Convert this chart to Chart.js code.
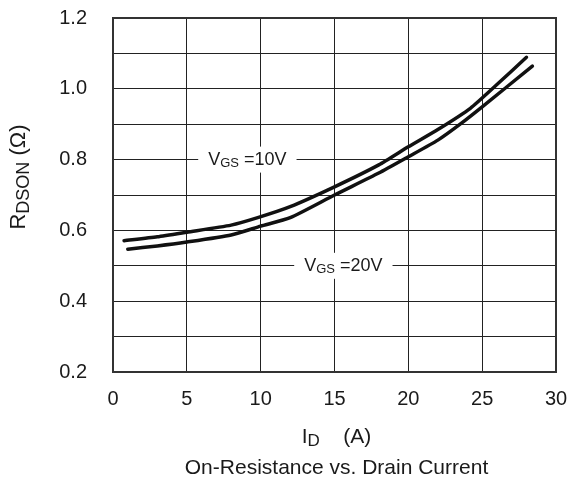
<!DOCTYPE html>
<html>
<head>
<meta charset="utf-8">
<script src="https://cdn.jsdelivr.net/npm/chart.js@4.4.1/dist/chart.umd.min.js"></script>
<style>
  html, body { margin: 0; padding: 0; background: #fff; }
  #wrap { width: 571px; height: 488px; position: relative; }
</style>
</head>
<body>
<div id="wrap"><canvas id="c"></canvas></div>
<script>
// -- data --
const vgs10Current = [0.75, 3, 5, 8, 9.8, 12, 15, 18, 20, 22, 24.2, 26, 28];
const vgs10Rdson   = [0.571, 0.582, 0.595, 0.615, 0.636, 0.667, 0.723, 0.785, 0.836, 0.885, 0.945, 1.012, 1.089];
const vgs20Current = [1, 3, 5, 8, 10, 12, 15, 18, 20, 22, 23.6, 25, 28.4];
const vgs20Rdson   = [0.547, 0.556, 0.567, 0.587, 0.612, 0.636, 0.700, 0.762, 0.808, 0.855, 0.903, 0.949, 1.064];

const xTicks = [0, 5, 10, 15, 20, 25, 30];
const yLabels = [0.2, 0.4, 0.6, 0.8, 1.0, 1.2];

// callout labels: [text, subscript, rest, x, y]
const callouts = [
    ['V', 'GS', ' =10V', 9.1, 0.8],
    ['V', 'GS', ' =20V', 15.6, 0.5],
];

const FONT = "'Liberation Sans', Arial, sans-serif";
const INK = '#1a1a1a';

function toPoints(xs, ys) {
    return xs.map((x, i) => ({ x, y: ys[i] }));
}

// draws text with a subscript part, starting at x (left aligned)
function drawSub(ctx, x, y, main, sub, rest, size, subSize) {
    ctx.font = `${size}px ${FONT}`;
    ctx.fillText(main, x, y);
    x += ctx.measureText(main).width;
    ctx.font = `${subSize}px ${FONT}`;
    ctx.fillText(sub, x, y + size * 0.22);
    x += ctx.measureText(sub).width;
    ctx.font = `${size}px ${FONT}`;
    ctx.fillText(rest, x, y);
}

function subWidth(ctx, main, sub, rest, size, subSize) {
    ctx.font = `${size}px ${FONT}`;
    let w = ctx.measureText(main).width + ctx.measureText(rest).width;
    ctx.font = `${subSize}px ${FONT}`;
    return w + ctx.measureText(sub).width;
}

const decorations = {
    id: 'decorations',
    beforeDatasetsDraw(chart) {
        const { ctx, scales: { x, y } } = chart;
        ctx.save();
        ctx.textBaseline = 'middle';
        callouts.forEach(([m, s, r, cx, cy]) => {
            const w = subWidth(ctx, m, s, r, 18, 13);
            const px = x.getPixelForValue(cx);
            const py = y.getPixelForValue(cy);
            ctx.fillStyle = '#fff';
            ctx.fillRect(px - w / 2 - 10, py - 13, w + 20, 26);
            ctx.fillStyle = INK;
            drawSub(ctx, px - w / 2, py, m, s, r, 18, 13);
        });
        ctx.restore();
    },
    afterDraw(chart) {
        const { ctx, chartArea: a } = chart;
        ctx.save();
        ctx.strokeStyle = '#333';
        ctx.lineWidth = 2;
        ctx.strokeRect(a.left, a.top, a.right - a.left, a.bottom - a.top);

        ctx.fillStyle = INK;
        ctx.textBaseline = 'middle';
        // x axis title
        const cx = (a.left + a.right) / 2 + 2;
        let w = subWidth(ctx, 'I', 'D', '    (A)', 21, 17);
        drawSub(ctx, cx - w / 2, 437, 'I', 'D', '    (A)', 21, 17);
        // caption
        ctx.font = `21px ${FONT}`;
        ctx.textAlign = 'center';
        ctx.fillText('On-Resistance vs. Drain Current', cx, 468);
        ctx.textAlign = 'left';
        // y axis title
        ctx.translate(19, 177);
        ctx.rotate(-Math.PI / 2);
        w = subWidth(ctx, 'R', 'DSON', ' (Ω)', 22, 18);
        drawSub(ctx, -w / 2, 0, 'R', 'DSON', ' (Ω)', 22, 18);
        ctx.restore();
    }
};

new Chart(document.getElementById('c'), {
    type: 'line',
    data: {
        datasets: [
            { label: 'VGS=10V', data: toPoints(vgs10Current, vgs10Rdson) },
            { label: 'VGS=20V', data: toPoints(vgs20Current, vgs20Rdson) },
        ],
    },
    options: {
        responsive: true,
        maintainAspectRatio: false,
        animation: false,
        layout: { padding: { left: 0, top: 18, right: 15, bottom: 0 } },
        elements: {
            line: { borderColor: '#111', borderWidth: 3.5, tension: 0.2, borderCapStyle: 'round' },
            point: { radius: 0 },
        },
        plugins: { legend: { display: false }, tooltip: { enabled: false } },
        scales: {
            x: {
                type: 'linear',
                min: 0, max: 30,
                afterBuildTicks: (s) => { s.ticks = xTicks.map(v => ({ value: v })); },
                afterFit: (s) => { s.height = 116; s.paddingLeft = 0; s.paddingRight = 0; },
                grid: { color: '#222', lineWidth: 1, drawTicks: false },
                border: { color: '#333', width: 2 },
                ticks: { color: INK, font: { family: FONT, size: 20 }, padding: 15 },
            },
            y: {
                min: 0.2, max: 1.2,
                afterBuildTicks: (s) => {
                    s.ticks = [];
                    for (let i = 0; i <= 10; i++) s.ticks.push({ value: 0.2 + i * 0.1 });
                },
                afterFit: (s) => { s.width = 113; s.paddingTop = 0; s.paddingBottom = 0; },
                grid: { color: '#222', lineWidth: 1, drawTicks: false },
                border: { color: '#333', width: 2 },
                ticks: {
                    color: INK,
                    font: { family: FONT, size: 20 },
                    padding: 26,
                    callback: (v) => {
                        const hit = yLabels.find(l => Math.abs(l - v) < 1e-6);
                        return hit === undefined ? '' : hit.toFixed(1);
                    },
                },
            },
        },
    },
    plugins: [decorations],
});
</script>
</body>
</html>
